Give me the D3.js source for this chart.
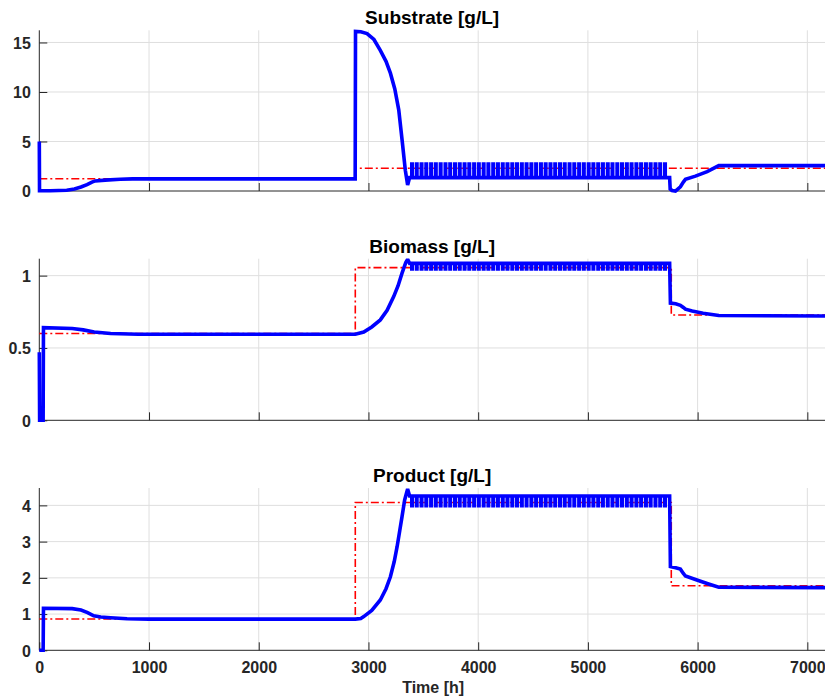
<!DOCTYPE html>
<html>
<head>
<meta charset="utf-8">
<script src="https://cdn.jsdelivr.net/npm/d3@7"></script>
<style>
  body { margin: 0; background: #fff; }
  svg { display: block; }
  text { font-family: "Liberation Sans", Arial, Helvetica, sans-serif; font-weight: bold; }
</style>
</head>
<body>
<svg id="chart" width="825" height="700"></svg>
<script>
// time axis
const timeTicks = [0, 1000, 2000, 3000, 4000, 5000, 6000, 7000]
const tEnd = 7161

// setpoint steps (red dash-dot): start times of each step
const setTimes = [0, 2880, 5760]
const substrateSet = [1.24, 2.3, 2.3]
const biomassSet = [0.6, 1.055, 0.728]
const productSet = [0.865, 4.08, 1.78]

// start of each feeding pulse in the oscillating phase [h]
const pulseStarts = [3395, 3438, 3482, 3525, 3569, 3612, 3656, 3700, 3743, 3787,
  3830, 3874, 3917, 3961, 4004, 4048, 4091, 4135, 4178, 4222, 4265, 4309, 4352,
  4396, 4439, 4483, 4526, 4570, 4613, 4657, 4700, 4744, 4787, 4831, 4874, 4918,
  4961, 5005, 5048, 5092, 5135, 5179, 5222, 5266, 5309, 5353, 5396, 5440, 5483,
  5527, 5570, 5614, 5657, 5701]
const pulseWidth = 4

// measured response (blue), before and after the pulse phase: [t, value]
const substrateBefore = [[0, 5], [2, 0.03], [100, 0.03], [250, 0.08], [320, 0.2], [380, 0.4],
  [435, 0.65], [480, 0.9], [510, 1.02], [600, 1.1], [738, 1.18], [850, 1.22], [2879, 1.22],
  [2882, 16.12], [2930, 16.08], [2987, 15.9], [3050, 15.3], [3108, 14.2], [3160, 13.1],
  [3200, 11.9], [3240, 10.3], [3276, 8.2], [3306, 5.2], [3336, 2.1], [3357, 0.6],
  [3375, 1.35], [3395, 1.35]]
const substrateAfter = [[5745, 1.35], [5750, 0.2], [5767, 0.05], [5798, 0.0], [5843, 0.43],
  [5870, 0.9], [5889, 1.18], [5980, 1.5], [6087, 1.95], [6193, 2.56], [tEnd, 2.56]]
const substratePulse = [1.35, 2.72]

const biomassBefore = [[0, 0.47], [3, 0], [35, 0], [38, 0.64], [300, 0.635], [400, 0.625],
  [500, 0.61], [650, 0.6], [900, 0.595], [2880, 0.595], [2957, 0.61], [3030, 0.645],
  [3108, 0.694], [3170, 0.76], [3230, 0.855], [3270, 0.93], [3306, 1.017], [3340, 1.09],
  [3357, 1.113], [3375, 1.085], [3395, 1.085]]
const biomassAfter = [[5745, 1.085], [5752, 0.81], [5800, 0.805], [5843, 0.795],
  [5870, 0.78], [5889, 0.768], [5950, 0.755], [6050, 0.74], [6193, 0.724], [tEnd, 0.721]]
const biomassPulse = [1.085, 1.047]

const productBefore = [[0, 0], [35, 0], [38, 1.16], [300, 1.15], [380, 1.11], [440, 1.04],
  [496, 0.95], [560, 0.92], [650, 0.9], [800, 0.87], [1000, 0.86], [2880, 0.86],
  [2930, 0.88], [2957, 0.93], [3030, 1.1], [3108, 1.39], [3160, 1.7], [3200, 2.03],
  [3235, 2.45], [3261, 2.86], [3285, 3.3], [3306, 3.69], [3330, 4.15], [3357, 4.45],
  [3375, 4.26], [3395, 4.26]]
const productAfter = [[5745, 4.26], [5752, 2.31], [5800, 2.28], [5843, 2.24], [5870, 2.12],
  [5889, 2.05], [5993, 1.94], [6100, 1.83], [6193, 1.74], [tEnd, 1.73]]
const productPulse = [4.26, 3.99]

const panels = [
  {title: 'Substrate [g/L]', before: substrateBefore, after: substrateAfter, pulse: substratePulse,
   set: substrateSet, ymax: 16.23, yticks: [0, 5, 10, 15], top: 30.3, bottom: 191, titleY: 24},
  {title: 'Biomass [g/L]', before: biomassBefore, after: biomassAfter, pulse: biomassPulse,
   set: biomassSet, ymax: 1.117, yticks: [0, 0.5, 1], top: 258.7, bottom: 420.3, titleY: 252.5},
  {title: 'Product [g/L]', before: productBefore, after: productAfter, pulse: productPulse,
   set: productSet, ymax: 4.48, yticks: [0, 1, 2, 3, 4], top: 488, bottom: 650.3, titleY: 482}
]

const svg = d3.select('#chart')
const left = 39.3, right = 825
const x = d3.scaleLinear().domain([0, tEnd]).range([left, right])
const axisCol = '#262626'

panels.forEach((p, k) => {
  const y = d3.scaleLinear().domain([0, p.ymax]).range([p.bottom, p.top])
  const g = svg.append('g')

  // grid
  g.selectAll('.gx').data(timeTicks.slice(1)).join('line')
    .attr('x1', d => x(d)).attr('x2', d => x(d))
    .attr('y1', p.top).attr('y2', p.bottom)
    .style('stroke', '#dfdfdf').style('stroke-width', 1)
  g.selectAll('.gy').data(p.yticks.slice(1)).join('line')
    .attr('x1', left).attr('x2', right)
    .attr('y1', d => y(d)).attr('y2', d => y(d))
    .style('stroke', '#dfdfdf').style('stroke-width', 1)

  // axes with inward ticks
  const xAxis = d3.axisTop(x).tickValues(timeTicks).tickSize(8)
    .tickFormat(k === 2 ? d3.format('d') : '')
  const ya = d3.axisRight(y).tickValues(p.yticks).tickSize(8).tickFormat(d3.format('~g'))
  const gx = g.append('g').attr('transform', `translate(0,${p.bottom})`).call(xAxis)
  const gy = g.append('g').attr('transform', `translate(${left},0)`).call(ya)
  ;[gx, gy].forEach(a => {
    a.select('.domain').remove()
    a.selectAll('line').style('stroke', axisCol).style('stroke-width', 1)
    a.selectAll('text').style('fill', axisCol).style('font-size', '16px')
      .style('font-family', '"Liberation Sans", Arial, sans-serif').style('font-weight', 'bold')
  })
  gx.selectAll('text').attr('y', 23).attr('dy', 0).attr('text-anchor', 'middle')
  gy.selectAll('text').attr('x', -8.5).attr('dy', '0.36em').attr('text-anchor', 'end')

  g.append('line').attr('x1', left).attr('x2', right).attr('y1', p.bottom).attr('y2', p.bottom)
    .style('stroke', axisCol).style('stroke-width', 1)
  g.append('line').attr('x1', left).attr('x2', left).attr('y1', p.top).attr('y2', p.bottom)
    .style('stroke', axisCol).style('stroke-width', 1)

  // setpoint (step)
  const setPts = []
  p.set.forEach((v, i) => {
    setPts.push([setTimes[i], v])
    setPts.push([i < p.set.length - 1 ? setTimes[i + 1] : tEnd, v])
  })
  // response with pulses
  const resp = p.before.slice()
  pulseStarts.forEach(c => {
    resp.push([c, p.pulse[0]], [c, p.pulse[1]], [c + pulseWidth, p.pulse[1]], [c + pulseWidth, p.pulse[0]])
  })
  p.after.forEach(d => resp.push(d))

  const line = d3.line().x(d => x(d[0])).y(d => y(d[1]))
  g.append('path').attr('d', line(setPts))
    .style('fill', 'none').style('stroke', '#ff0000').style('stroke-width', 1.6)
    .style('stroke-dasharray', '8,3,2,3')
  g.append('path').attr('d', line(resp))
    .style('fill', 'none').style('stroke', '#0000ff').style('stroke-width', 3.6)
    .style('stroke-linejoin', 'miter').style('stroke-miterlimit', 2)

  g.append('text').attr('x', (left + right) / 2).attr('y', p.titleY)
    .attr('text-anchor', 'middle').style('font-size', '19px').style('fill', '#000')
    .text(p.title)
})

svg.append('text').attr('x', (left + right) / 2 + 1).attr('y', 693)
  .attr('text-anchor', 'middle').style('font-size', '16px').style('fill', axisCol)
  .text('Time [h]')
</script>
</body>
</html>
